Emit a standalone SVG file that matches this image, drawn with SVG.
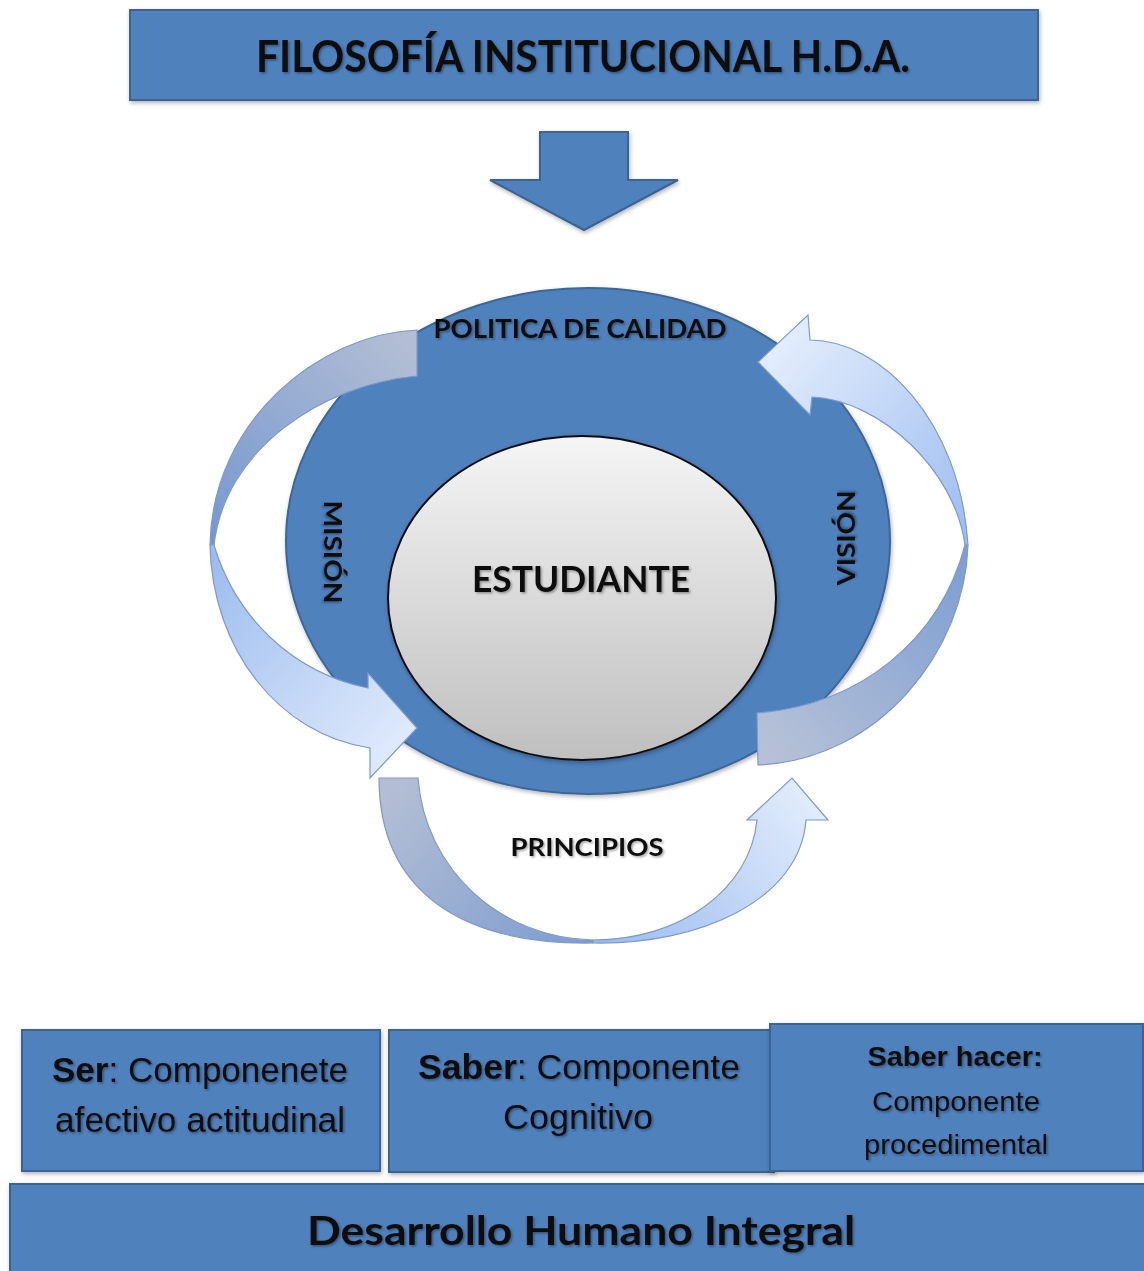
<svg xmlns="http://www.w3.org/2000/svg" width="1144" height="1271" viewBox="0 0 1144 1271">
<defs>
<style>
.box{fill:#4f81bd;stroke:#3a6394;stroke-width:2}
.t{font-family:Lato,"Open Sans","Liberation Sans",sans-serif;font-weight:bold;fill:#111;text-anchor:middle;filter:url(#ts)}
.a{font-family:"Liberation Sans",Arial,sans-serif;fill:#111;text-anchor:middle;filter:url(#ts)}
.arr{stroke:#7d9acb;stroke-width:1.2}
</style>
<filter id="ts" x="-10%" y="-30%" width="120%" height="160%"><feDropShadow dx="1.5" dy="1.5" stdDeviation="1.2" flood-color="#000" flood-opacity="0.35"/></filter>
<filter id="sh" x="-10%" y="-10%" width="120%" height="120%"><feDropShadow dx="1" dy="2" stdDeviation="2" flood-color="#000" flood-opacity="0.3"/></filter>
<linearGradient id="gUL" gradientUnits="userSpaceOnUse" x1="417" y1="350" x2="210" y2="540"><stop offset="0" stop-color="#b3bed4"/><stop offset="1" stop-color="#7698d0"/></linearGradient>
<linearGradient id="gLL" gradientUnits="userSpaceOnUse" x1="212" y1="545" x2="417" y2="728"><stop offset="0" stop-color="#9bbbee"/><stop offset="1" stop-color="#dfeafc"/></linearGradient>
<linearGradient id="gUR" gradientUnits="userSpaceOnUse" x1="760" y1="362" x2="967" y2="545"><stop offset="0" stop-color="#e3edfc"/><stop offset="1" stop-color="#9cbcf0"/></linearGradient>
<linearGradient id="gLR" gradientUnits="userSpaceOnUse" x1="967" y1="545" x2="757" y2="740"><stop offset="0" stop-color="#7c9dd2"/><stop offset="1" stop-color="#b6c1d7"/></linearGradient>
<linearGradient id="gBL" gradientUnits="userSpaceOnUse" x1="400" y1="778" x2="593" y2="942"><stop offset="0" stop-color="#b3bed4"/><stop offset="1" stop-color="#7c9cd0"/></linearGradient>
<linearGradient id="gBR" gradientUnits="userSpaceOnUse" x1="593" y1="942" x2="792" y2="778"><stop offset="0" stop-color="#9bbbee"/><stop offset="1" stop-color="#e1ecfc"/></linearGradient>
<linearGradient id="gIn" x1="0" y1="0" x2="0" y2="1"><stop offset="0" stop-color="#f5f5f5"/><stop offset="1" stop-color="#bfbfbf"/></linearGradient>
</defs>
<rect width="1144" height="1271" fill="#fff"/>

<g id="title">
<rect class="box" x="130" y="10" width="908" height="90" filter="url(#sh)"/>
<text class="t" x="583" y="72" font-size="43" textLength="654" lengthAdjust="spacingAndGlyphs">FILOSOFÍA INSTITUCIONAL H.D.A.</text>
</g>

<g id="ring">
<ellipse cx="588" cy="541" rx="302" ry="253" fill="#4f81bd" stroke="#3d6699" stroke-width="2" filter="url(#sh)"/>
<text class="t" x="580" y="338" font-size="27" textLength="293" lengthAdjust="spacingAndGlyphs">POLITICA DE CALIDAD</text>
<text class="t" transform="translate(333,552) rotate(90)" x="0" y="9" font-size="25" textLength="103" lengthAdjust="spacingAndGlyphs">MISIÓN</text>
<text class="t" transform="translate(846,538) rotate(-90)" x="0" y="9" font-size="25" textLength="95" lengthAdjust="spacingAndGlyphs">VISIÓN</text>
</g>

<g id="estudiante">
<ellipse cx="582" cy="598" rx="194" ry="162" fill="url(#gIn)" stroke="#111" stroke-width="2" filter="url(#sh)"/>
<text class="t" x="581" y="592" font-size="37" textLength="218" lengthAdjust="spacingAndGlyphs">ESTUDIANTE</text>
</g>

<g id="connectors">
<path id="down-arrow" class="box" d="M540 132 H628 V180 H678 L584 230 L490 180 H540 Z" filter="url(#sh)"/>
<g id="arrow-mision">
<path class="arr" fill="url(#gUL)" d="M417 330 C320 334 212 420 210 545 L214 545 C225 450 320 385 417 376 Z"/>
<path class="arr" fill="url(#gLL)" d="M210 545 C212 650 280 735 370 748 L370 778 L417 728 L368 673 L368 688 C290 672 235 615 214 545 Z"/>
</g>
<g id="arrow-vision">
<path class="arr" fill="url(#gLR)" d="M968 545 C965 650 880 760 758 765 L757 713 C860 705 940 640 965 545 Z"/>
<path class="arr" fill="url(#gUR)" d="M965 545 C955 470 880 400 812 397 L810 415 L758 362 L808 315 L810 340 C880 340 960 420 968 545 Z"/>
</g>
<g id="arrow-principios">
<path class="arr" fill="url(#gBL)" d="M379 778 L418 778 C425 870 500 938 593 940 L593 943 C460 945 379 890 379 778 Z"/>
<path class="arr" fill="url(#gBR)" d="M593 940 C680 940 750 890 757 820 L747 820 L792 778 L828 820 L806 820 C800 900 700 945 593 943 Z"/>
</g>
</g>
<text class="t" x="587" y="856" font-size="25" textLength="153" lengthAdjust="spacingAndGlyphs">PRINCIPIOS</text>

<g id="ser">
<rect class="box" x="22" y="1030" width="358" height="141" filter="url(#sh)"/>
<text class="a" x="200" y="1082" font-size="35" textLength="296" lengthAdjust="spacingAndGlyphs"><tspan font-weight="bold">Ser</tspan>: Componenete</text>
<text class="a" x="200" y="1132" font-size="35" textLength="290" lengthAdjust="spacingAndGlyphs">afectivo actitudinal</text>
</g>

<g id="saber">
<rect class="box" x="389" y="1030" width="385" height="142" filter="url(#sh)"/>
<text class="a" x="579" y="1079" font-size="35" textLength="322" lengthAdjust="spacingAndGlyphs"><tspan font-weight="bold">Saber</tspan>: Componente</text>
<text class="a" x="578" y="1129" font-size="35" textLength="150" lengthAdjust="spacingAndGlyphs">Cognitivo</text>
</g>

<g id="saber-hacer">
<rect class="box" x="770" y="1024" width="373" height="147" filter="url(#sh)"/>
<text class="a" x="955" y="1066" font-size="28" font-weight="bold" textLength="175" lengthAdjust="spacingAndGlyphs">Saber hacer:</text>
<text class="a" x="956" y="1111" font-size="28" textLength="168" lengthAdjust="spacingAndGlyphs">Componente</text>
<text class="a" x="956" y="1154" font-size="28" textLength="184" lengthAdjust="spacingAndGlyphs">procedimental</text>
</g>

<g id="desarrollo">
<rect class="box" x="10" y="1184" width="1140" height="95" filter="url(#sh)"/>
<text class="t" x="581" y="1245" font-size="41" textLength="548" lengthAdjust="spacingAndGlyphs">Desarrollo Humano Integral</text>
</g>
</svg>
